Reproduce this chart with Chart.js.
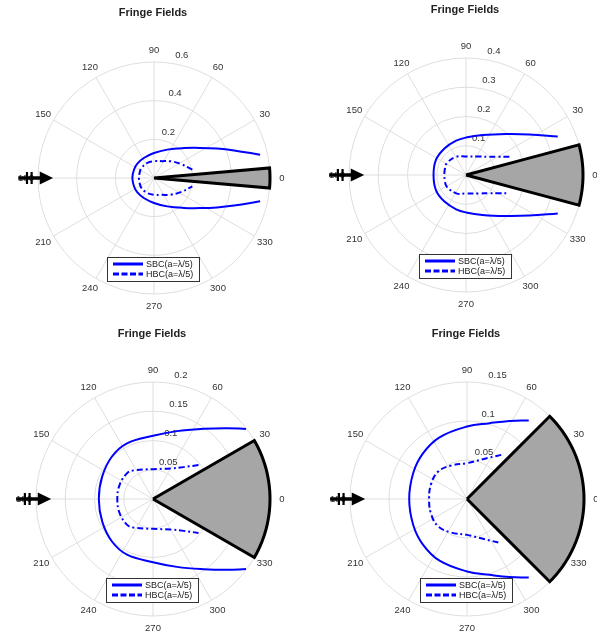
<!DOCTYPE html>
<html>
<head>
<meta charset="utf-8">
<script src="https://cdn.jsdelivr.net/npm/chart.js@4/dist/chart.umd.min.js"></script>
<style>
  html, body { margin: 0; padding: 0; background: #fff; }
  #wrap { position: relative; width: 597px; height: 634px; overflow: hidden; }
  canvas { position: absolute; }
</style>
</head>
<body>
<div id="wrap">
  <canvas id="p1" width="298" height="317" style="left:0;top:0"></canvas>
  <canvas id="p2" width="298" height="317" style="left:299px;top:0"></canvas>
  <canvas id="p3" width="298" height="317" style="left:0;top:317px"></canvas>
  <canvas id="p4" width="298" height="317" style="left:299px;top:317px"></canvas>
</div>
<script>
// ---- data ----
const titleText = 'Fringe Fields';
const seriesNames = ['SBC(a=\u03bb/5)', 'HBC(a=\u03bb/5)'];
const angleTicks = [0, 30, 60, 90, 120, 150, 180, 210, 240, 270, 300, 330];

const rTicks1 = [0.2, 0.4, 0.6];
const rTicks2 = [0.1, 0.2, 0.3, 0.4];
const rTicks3 = [0.05, 0.1, 0.15, 0.2];
const rTicks4 = [0.05, 0.1, 0.15];

// half opening angle of the gray sector, degrees
const wedgeHalf = [5, 15, 30, 45];

const sbcTheta1 = [12.4, 19, 25, 33, 45, 65, 90, 117, 139, 157, 180, 203, 221, 243, 270, 295, 315, 327, 335, 341, 347.6];
const sbcR1 = [0.562, 0.438, 0.360, 0.286, 0.219, 0.162, 0.129, 0.116, 0.114, 0.112, 0.112, 0.112, 0.114, 0.116, 0.129, 0.162, 0.219, 0.286, 0.360, 0.438, 0.562];
const hbcTheta1 = [12.3, 28, 45, 65, 88, 114, 142, 160, 180, 200, 218, 246, 272, 295, 315, 332, 347.7];
const hbcR1 = [0.203, 0.156, 0.122, 0.096, 0.087, 0.085, 0.083, 0.079, 0.078, 0.079, 0.083, 0.085, 0.087, 0.096, 0.122, 0.156, 0.203];

const sbcTheta2 = [22.7, 32.7, 45.7, 67.4, 90, 106, 129, 153, 180, 207, 231, 254, 270, 292.6, 314.3, 327.3, 337.3];
const sbcR2 = [0.340, 0.257, 0.196, 0.148, 0.128, 0.122, 0.117, 0.115, 0.111, 0.115, 0.117, 0.122, 0.128, 0.148, 0.196, 0.257, 0.340];
const hbcTheta2 = [22.9, 30, 38, 55, 90, 118, 149, 165, 180, 195, 211, 242, 270, 305, 322, 330, 337.1];
const hbcR2 = [0.161, 0.125, 0.101, 0.077, 0.063, 0.071, 0.077, 0.075, 0.074, 0.075, 0.077, 0.071, 0.063, 0.077, 0.101, 0.125, 0.161];

const sbcTheta3 = [37, 43.8, 54.2, 70.6, 90, 115, 134, 156, 180, 204, 226, 245, 270, 289.4, 305.8, 316.2, 323];
const sbcR3 = [0.199, 0.175, 0.148, 0.123, 0.108, 0.105, 0.101, 0.095, 0.0926, 0.095, 0.101, 0.105, 0.108, 0.123, 0.148, 0.175, 0.199];
const hbcTheta3 = [36.7, 46.2, 60.5, 90, 124, 135, 157, 180, 203, 225, 236, 270, 299.5, 313.8, 323.3];
const hbcR3 = [0.097, 0.0755, 0.060, 0.051, 0.059, 0.0625, 0.062, 0.061, 0.062, 0.0625, 0.059, 0.051, 0.060, 0.0755, 0.097];

const sbcTheta4 = [51.8, 61.4, 73.4, 90, 114, 134, 154, 180, 206, 226, 246, 270, 286.6, 298.6, 308.2];
const sbcR4 = [0.128, 0.114, 0.1014, 0.0929, 0.0866, 0.0813, 0.0766, 0.0741, 0.0766, 0.0813, 0.0866, 0.0929, 0.1014, 0.114, 0.128];
const hbcTheta4 = [52.2, 68.2, 90, 115, 136, 156, 180, 204, 224, 245, 270, 291.8, 307.8];
const hbcR4 = [0.0716, 0.055, 0.046, 0.0475, 0.051, 0.050, 0.0486, 0.050, 0.051, 0.0475, 0.046, 0.055, 0.0716];

const FONT = '"Liberation Sans", Arial, Helvetica, sans-serif';
const BLUE = '#0000ff';
const HBC_DASH = [6, 3, 2, 3];

const toRad = (deg) => deg * Math.PI / 180;
const polar = (deg, r) => ({ x: r * Math.cos(toRad(deg)), y: r * Math.sin(toRad(deg)) });

// grid, labels, title, then arrow + legend on top
const polarDecor = {
  id: 'polarDecor',
  beforeDatasetsDraw(chart, args, opts) {
    const { ctx, scales: { x, y } } = chart;
    const cx = x.getPixelForValue(0);
    const cy = y.getPixelForValue(0);
    const rad = (v) => x.getPixelForValue(v) - cx;
    const R = rad(opts.max);

    ctx.save();
    ctx.strokeStyle = '#dedede';
    ctx.lineWidth = 1;
    opts.ticks.forEach((t) => {
      ctx.beginPath();
      ctx.arc(cx, cy, rad(t), 0, Math.PI * 2);
      ctx.stroke();
    });
    angleTicks.forEach((a) => {
      ctx.beginPath();
      ctx.moveTo(cx, cy);
      ctx.lineTo(cx + R * Math.cos(toRad(a)), cy - R * Math.sin(toRad(a)));
      ctx.stroke();
    });

    ctx.fillStyle = '#333';
    ctx.font = '9.5px ' + FONT;
    ctx.textAlign = 'left';
    ctx.textBaseline = 'middle';
    opts.ticks.forEach((t) => {
      const r = rad(t);
      ctx.fillText(String(t), cx + r * Math.cos(toRad(80)) + 1, cy - r * Math.sin(toRad(80)) - 8);
    });

    ctx.textAlign = 'center';
    angleTicks.forEach((a) => {
      const r = R + 12;
      ctx.fillText(String(a), cx + r * Math.cos(toRad(a)), cy - r * Math.sin(toRad(a)));
    });

    ctx.fillStyle = '#222';
    ctx.font = 'bold 11px ' + FONT;
    ctx.fillText(titleText, cx - 1, cy - 165.5);
    ctx.restore();
  },
  afterDatasetsDraw(chart, args, opts) {
    const { ctx, scales: { x, y } } = chart;
    const cx = x.getPixelForValue(0);
    const cy = y.getPixelForValue(0);
    const R = x.getPixelForValue(opts.max) - cx;

    // incidence arrow along 180 deg
    ctx.save();
    ctx.strokeStyle = '#000';
    ctx.fillStyle = '#000';
    ctx.lineWidth = 3.5;
    ctx.beginPath();
    ctx.moveTo(cx - 1.17 * R, cy);
    ctx.lineTo(cx - 0.96 * R, cy);
    ctx.stroke();
    ctx.beginPath();
    ctx.moveTo(cx - 0.985 * R, cy - 6.5);
    ctx.lineTo(cx - 0.87 * R, cy);
    ctx.lineTo(cx - 0.985 * R, cy + 6.5);
    ctx.closePath();
    ctx.fill();
    ctx.lineWidth = 2.2;
    [1.095, 1.055].forEach((f) => {
      ctx.beginPath();
      ctx.moveTo(cx - f * R, cy - 6);
      ctx.lineTo(cx - f * R, cy + 6);
      ctx.stroke();
    });

    // legend box
    const left = Math.round(cx - 47) + 0.5;
    const top = Math.round(cy + 79) + 0.5;
    ctx.fillStyle = '#fff';
    ctx.fillRect(left, top, 92, 24);
    ctx.strokeStyle = '#333';
    ctx.lineWidth = 1;
    ctx.strokeRect(left, top, 92, 24);

    ctx.strokeStyle = BLUE;
    ctx.lineWidth = 3;
    ctx.beginPath();
    ctx.moveTo(left + 5.5, top + 6.5);
    ctx.lineTo(left + 35.5, top + 6.5);
    ctx.stroke();
    ctx.setLineDash([6, 2.5]);
    ctx.beginPath();
    ctx.moveTo(left + 5.5, top + 16.5);
    ctx.lineTo(left + 35.5, top + 16.5);
    ctx.stroke();
    ctx.setLineDash([]);

    ctx.fillStyle = '#222';
    ctx.font = '9px ' + FONT;
    ctx.textAlign = 'left';
    ctx.textBaseline = 'middle';
    ctx.fillText(seriesNames[0], left + 38.5, top + 7);
    ctx.fillText(seriesNames[1], left + 38.5, top + 17);
    ctx.restore();
  }
};

function wedgeData(half, max) {
  const pts = [{ x: 0, y: 0 }];
  for (let a = -half; a <= half + 1e-9; a += 1) pts.push(polar(a, max));
  pts.push({ x: 0, y: 0 });
  return pts;
}

function makePanel(id, cfg) {
  const canvas = document.getElementById(id);
  const W = canvas.width, H = canvas.height;
  const max = cfg.ticks[cfg.ticks.length - 1];
  const k = max / cfg.R;

  return new Chart(canvas, {
    type: 'scatter',
    data: {
      datasets: [
        {
          label: seriesNames[0],
          data: cfg.sbcTheta.map((t, i) => polar(t, cfg.sbcR[i])),
          showLine: true,
          borderColor: BLUE,
          borderWidth: 2,
          pointRadius: 0,
          tension: 0.4,
          fill: false,
          order: 1
        },
        {
          label: seriesNames[1],
          data: cfg.hbcTheta.map((t, i) => polar(t, cfg.hbcR[i])),
          showLine: true,
          borderColor: BLUE,
          borderWidth: 2,
          borderDash: HBC_DASH,
          pointRadius: 0,
          tension: 0.4,
          fill: false,
          order: 2
        },
        {
          label: 'sector',
          data: wedgeData(cfg.wedge, max),
          showLine: true,
          borderColor: '#000',
          borderWidth: 3,
          borderJoinStyle: 'miter',
          backgroundColor: '#a6a6a6',
          pointRadius: 0,
          // tiny tension keeps Chart.js off its per-pixel fast path (which makes the arc jagged)
          tension: 0.000001,
          capBezierPoints: false,
          fill: 'shape',
          order: 3
        }
      ]
    },
    options: {
      responsive: false,
      animation: false,
      events: [],
      layout: { padding: 0 },
      plugins: {
        legend: { display: false },
        tooltip: { enabled: false },
        polarDecor: { ticks: cfg.ticks, max }
      },
      scales: {
        x: { type: 'linear', display: false, min: -cfg.cx * k, max: (W - cfg.cx) * k },
        y: { type: 'linear', display: false, min: -(H - cfg.cy) * k, max: cfg.cy * k }
      }
    },
    plugins: [polarDecor]
  });
}

makePanel('p1', { cx: 154, cy: 178, R: 116, ticks: rTicks1, wedge: wedgeHalf[0], sbcTheta: sbcTheta1, sbcR: sbcR1, hbcTheta: hbcTheta1, hbcR: hbcR1 });
makePanel('p2', { cx: 167, cy: 175, R: 117, ticks: rTicks2, wedge: wedgeHalf[1], sbcTheta: sbcTheta2, sbcR: sbcR2, hbcTheta: hbcTheta2, hbcR: hbcR2 });
makePanel('p3', { cx: 153, cy: 182, R: 117, ticks: rTicks3, wedge: wedgeHalf[2], sbcTheta: sbcTheta3, sbcR: sbcR3, hbcTheta: hbcTheta3, hbcR: hbcR3 });
makePanel('p4', { cx: 168, cy: 182, R: 117, ticks: rTicks4, wedge: wedgeHalf[3], sbcTheta: sbcTheta4, sbcR: sbcR4, hbcTheta: hbcTheta4, hbcR: hbcR4 });
</script>
</body>
</html>
